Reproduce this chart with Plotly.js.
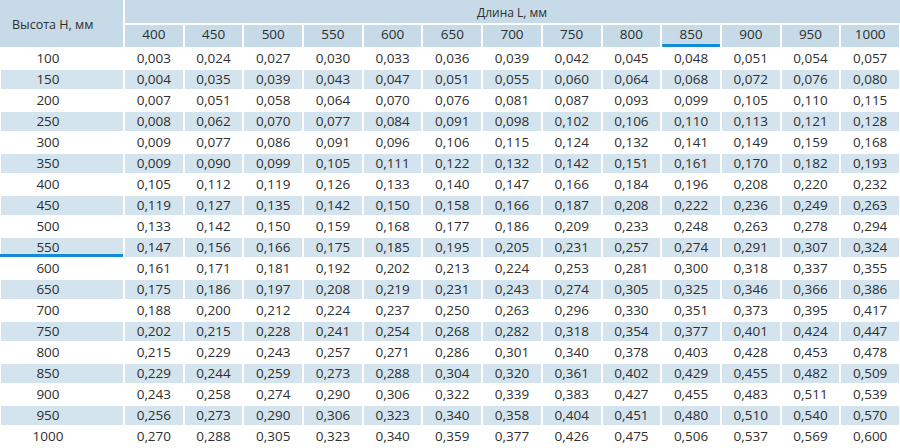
<!DOCTYPE html>
<html>
<head>
<meta charset="utf-8">
<script src="https://cdn.plot.ly/plotly-3.0.1.min.js"></script>
<style>html,body{margin:0;padding:0;background:#fff;}</style>
</head>
<body>
<div id="chart" style="width:900px;height:448px;"></div>
<script>
// ---- data ----
const titleH = 'Высота H, мм';
const titleL = 'Длина L, мм';
const lengthsL = [400, 450, 500, 550, 600, 650, 700, 750, 800, 850, 900, 950, 1000];
const heightsH = [100, 150, 200, 250, 300, 350, 400, 450, 500, 550, 600, 650, 700, 750, 800, 850, 900, 950, 1000];

const rowH100  = [0.003, 0.024, 0.027, 0.030, 0.033, 0.036, 0.039, 0.042, 0.045, 0.048, 0.051, 0.054, 0.057];
const rowH150  = [0.004, 0.035, 0.039, 0.043, 0.047, 0.051, 0.055, 0.060, 0.064, 0.068, 0.072, 0.076, 0.080];
const rowH200  = [0.007, 0.051, 0.058, 0.064, 0.070, 0.076, 0.081, 0.087, 0.093, 0.099, 0.105, 0.110, 0.115];
const rowH250  = [0.008, 0.062, 0.070, 0.077, 0.084, 0.091, 0.098, 0.102, 0.106, 0.110, 0.113, 0.121, 0.128];
const rowH300  = [0.009, 0.077, 0.086, 0.091, 0.096, 0.106, 0.115, 0.124, 0.132, 0.141, 0.149, 0.159, 0.168];
const rowH350  = [0.009, 0.090, 0.099, 0.105, 0.111, 0.122, 0.132, 0.142, 0.151, 0.161, 0.170, 0.182, 0.193];
const rowH400  = [0.105, 0.112, 0.119, 0.126, 0.133, 0.140, 0.147, 0.166, 0.184, 0.196, 0.208, 0.220, 0.232];
const rowH450  = [0.119, 0.127, 0.135, 0.142, 0.150, 0.158, 0.166, 0.187, 0.208, 0.222, 0.236, 0.249, 0.263];
const rowH500  = [0.133, 0.142, 0.150, 0.159, 0.168, 0.177, 0.186, 0.209, 0.233, 0.248, 0.263, 0.278, 0.294];
const rowH550  = [0.147, 0.156, 0.166, 0.175, 0.185, 0.195, 0.205, 0.231, 0.257, 0.274, 0.291, 0.307, 0.324];
const rowH600  = [0.161, 0.171, 0.181, 0.192, 0.202, 0.213, 0.224, 0.253, 0.281, 0.300, 0.318, 0.337, 0.355];
const rowH650  = [0.175, 0.186, 0.197, 0.208, 0.219, 0.231, 0.243, 0.274, 0.305, 0.325, 0.346, 0.366, 0.386];
const rowH700  = [0.188, 0.200, 0.212, 0.224, 0.237, 0.250, 0.263, 0.296, 0.330, 0.351, 0.373, 0.395, 0.417];
const rowH750  = [0.202, 0.215, 0.228, 0.241, 0.254, 0.268, 0.282, 0.318, 0.354, 0.377, 0.401, 0.424, 0.447];
const rowH800  = [0.215, 0.229, 0.243, 0.257, 0.271, 0.286, 0.301, 0.340, 0.378, 0.403, 0.428, 0.453, 0.478];
const rowH850  = [0.229, 0.244, 0.259, 0.273, 0.288, 0.304, 0.320, 0.361, 0.402, 0.429, 0.455, 0.482, 0.509];
const rowH900  = [0.243, 0.258, 0.274, 0.290, 0.306, 0.322, 0.339, 0.383, 0.427, 0.455, 0.483, 0.511, 0.539];
const rowH950  = [0.256, 0.273, 0.290, 0.306, 0.323, 0.340, 0.358, 0.404, 0.451, 0.480, 0.510, 0.540, 0.570];
const rowH1000 = [0.270, 0.288, 0.305, 0.323, 0.340, 0.359, 0.377, 0.426, 0.475, 0.506, 0.537, 0.569, 0.600];

const highlightL = 850;
const highlightH = 550;

// ---- build ----
const rows = [rowH100, rowH150, rowH200, rowH250, rowH300, rowH350, rowH400, rowH450, rowH500, rowH550,
              rowH600, rowH650, rowH700, rowH750, rowH800, rowH850, rowH900, rowH950, rowH1000];

const W = 900, H = 448;
const topBand = 24, headerH = 24, rowHgt = 21;
const HEAD_FILL = '#c6dbe7';
const ROW_FILL = '#d3e4ee';
const TXT = '#2f2f2f';
const BLUE = '#118bd6';
const FONT = 'Open Sans, sans-serif';
const TEXT_SHIFT = -3;

const fmt = v => v.toFixed(3).replace('.', ',');
const pad = '\u00a0'.repeat(8);

const colW = [124].concat(lengthsL.map(() => (W - 124) / lengthsL.length));
const edges = [0];
colW.forEach(w => edges.push(edges[edges.length - 1] + w));

const cellCols = [heightsH.map(h => String(h) + pad)];
lengthsL.forEach((L, j) => cellCols.push(rows.map(r => fmt(r[j]))));

const rowColors = heightsH.map((_, i) => (i % 2 === 0 ? '#ffffff' : ROW_FILL));

const trace = {
  type: 'table',
  domain: {x: [0, 1], y: [0, 1 - topBand / H]},
  columnwidth: colW,
  header: {
    values: [''].concat(lengthsL.map(String)),
    height: headerH,
    align: 'center',
    fill: {color: ['rgba(0,0,0,0)'].concat(lengthsL.map(() => HEAD_FILL))},
    line: {color: ['rgba(0,0,0,0)'].concat(lengthsL.map(() => '#ffffff')), width: 2},
    font: {family: FONT, size: 13.5, color: TXT}
  },
  cells: {
    values: cellCols,
    height: rowHgt,
    align: 'center',
    fill: {color: [rowColors]},
    line: {color: '#ffffff', width: 2},
    font: {family: FONT, size: 13.5, color: TXT}
  }
};

const px = x => x / W;
const py = y => 1 - y / H;

const li = lengthsL.indexOf(highlightL) + 1;
const hi = heightsH.indexOf(highlightH);
const rowBottom = topBand + headerH + (hi + 1) * rowHgt - 1;
const headBottom = topBand + headerH - 1;

const shapes = [
  {type: 'rect', xref: 'paper', yref: 'paper', layer: 'above', line: {width: 0}, fillcolor: HEAD_FILL,
   x0: px(0), x1: px(edges[1] - 1), y0: py(0), y1: py(headBottom)},
  {type: 'rect', xref: 'paper', yref: 'paper', layer: 'above', line: {width: 0}, fillcolor: HEAD_FILL,
   x0: px(edges[1] + 1), x1: px(W), y0: py(0), y1: py(topBand - 1)},
  {type: 'rect', xref: 'paper', yref: 'paper', layer: 'above', line: {width: 0}, fillcolor: BLUE,
   x0: px(edges[li] + 1), x1: px(edges[li + 1] - 1), y0: py(headBottom - 3), y1: py(headBottom)},
  {type: 'rect', xref: 'paper', yref: 'paper', layer: 'above', line: {width: 0}, fillcolor: BLUE,
   x0: px(0), x1: px(edges[1] - 1), y0: py(rowBottom - 3), y1: py(rowBottom)}
];

const annotations = [
  {text: titleH, xref: 'paper', yref: 'paper', x: px(10), y: py(25), xanchor: 'left', yanchor: 'middle',
   showarrow: false, font: {family: FONT, size: 12.5, color: TXT}},
  {text: titleL, xref: 'paper', yref: 'paper', x: px((edges[1] + W) / 2), y: py(12), xanchor: 'center', yanchor: 'middle',
   showarrow: false, font: {family: FONT, size: 12, color: TXT}}
];

const layout = {
  width: W, height: H,
  margin: {l: 0, r: 0, t: 0, b: 0, pad: 0},
  paper_bgcolor: '#ffffff',
  shapes: shapes,
  annotations: annotations,
  showlegend: false
};

Plotly.newPlot('chart', [trace], layout, {displayModeBar: false, staticPlot: true}).then(gd => {
  gd.querySelectorAll('.cell-text-holder').forEach(el => {
    const t = el.getAttribute('transform') || '';
    el.setAttribute('transform', t + ' translate(0,' + TEXT_SHIFT + ')');
  });
});
</script>
</body>
</html>
